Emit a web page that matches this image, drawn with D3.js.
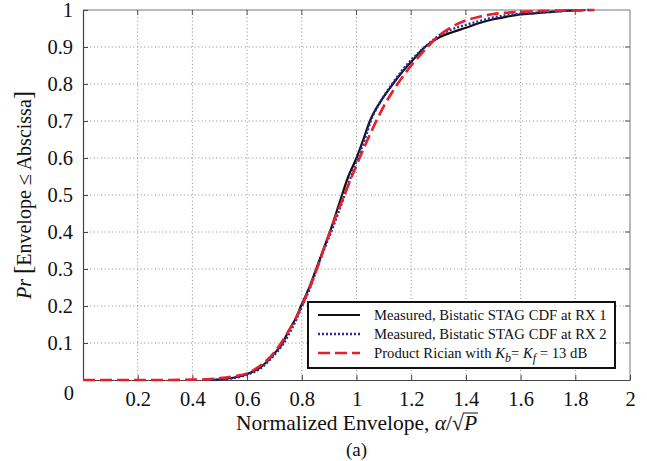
<!DOCTYPE html>
<html>
<head>
<meta charset="utf-8">
<script src="https://cdn.jsdelivr.net/npm/d3@7"></script>
<style>
  body { margin: 0; background: #fff; }
  text { font-family: "Liberation Serif", "Times New Roman", serif; fill: #111; }
</style>
</head>
<body>
<svg width="647" height="461"></svg>
<script>
// data
let xTicks = [0, 0.2, 0.4, 0.6, 0.8, 1, 1.2, 1.4, 1.6, 1.8, 2];
let yTicks = [0, 0.1, 0.2, 0.3, 0.4, 0.5, 0.6, 0.7, 0.8, 0.9, 1];

let rx1X = [0.47, 0.5, 0.55, 0.6, 0.65, 0.7, 0.73, 0.75, 0.78, 0.8, 0.83, 0.85, 0.88, 0.905, 0.925, 0.947, 0.97, 1.0, 1.025, 1.049, 1.09, 1.133, 1.17, 1.2, 1.25, 1.3, 1.35, 1.4, 1.45, 1.5, 1.55, 1.6, 1.65, 1.7, 1.75, 1.8, 1.83];
let rx1Y = [0, 0.002, 0.006, 0.016, 0.035, 0.072, 0.1, 0.13, 0.17, 0.205, 0.255, 0.295, 0.355, 0.405, 0.45, 0.5, 0.55, 0.6, 0.65, 0.7, 0.755, 0.8, 0.835, 0.86, 0.9, 0.925, 0.94, 0.952, 0.965, 0.975, 0.982, 0.988, 0.991, 0.994, 0.997, 0.999, 1.0];

let rx2X = [0.48, 0.5, 0.55, 0.6, 0.65, 0.7, 0.73, 0.75, 0.78, 0.8, 0.83, 0.85, 0.88, 0.91, 0.935, 0.957, 0.98, 1.005, 1.03, 1.052, 1.09, 1.13, 1.165, 1.2, 1.25, 1.3, 1.35, 1.4, 1.45, 1.5, 1.55, 1.6, 1.7, 1.8, 1.85];
let rx2Y = [0, 0.001, 0.005, 0.014, 0.032, 0.068, 0.095, 0.12, 0.163, 0.198, 0.248, 0.29, 0.35, 0.405, 0.455, 0.5, 0.55, 0.6, 0.65, 0.7, 0.755, 0.8, 0.835, 0.865, 0.9, 0.93, 0.948, 0.96, 0.97, 0.98, 0.986, 0.99, 0.995, 0.999, 1.0];

let ricX = [0, 0.1, 0.2, 0.3, 0.4, 0.45, 0.5, 0.55, 0.6, 0.65, 0.7, 0.75, 0.8, 0.85, 0.9, 0.95, 1.0, 1.05, 1.1, 1.15, 1.2, 1.25, 1.3, 1.35, 1.4, 1.45, 1.5, 1.6, 1.7, 1.8, 1.87];
let ricY = [0, 0, 0, 0, 0.001, 0.002, 0.005, 0.01, 0.018, 0.04, 0.075, 0.13, 0.2, 0.29, 0.395, 0.49, 0.58, 0.665, 0.74, 0.8, 0.85, 0.892, 0.93, 0.955, 0.972, 0.982, 0.989, 0.995, 0.998, 0.999, 1.0];

let margin = {top: 10, right: 17, bottom: 81, left: 83};
let svg = d3.select("svg");
let W = 647 - margin.left - margin.right;
let H = 461 - margin.top - margin.bottom;

let x = d3.scaleLinear().domain([0, 2]).range([0, W]);
let y = d3.scaleLinear().domain([0, 1]).range([H, 0]);

let g = svg.append("g").attr("transform", "translate(" + margin.left + "," + margin.top + ")");

// grid
g.selectAll(".vgrid").data(xTicks.slice(1, -1)).enter().append("line")
  .attr("x1", d => x(d)).attr("x2", d => x(d)).attr("y1", 0).attr("y2", H)
  .attr("stroke", "#8a8a8a").attr("stroke-width", 1).attr("stroke-dasharray", "1,2.6");
g.selectAll(".hgrid").data(yTicks.slice(1, -1)).enter().append("line")
  .attr("y1", d => y(d)).attr("y2", d => y(d)).attr("x1", 0).attr("x2", W)
  .attr("stroke", "#8a8a8a").attr("stroke-width", 1).attr("stroke-dasharray", "1,2.6");

// frame (top/right lighter)
g.append("line").attr("x1", 0).attr("x2", W).attr("y1", 0).attr("y2", 0).attr("stroke", "#777");
g.append("line").attr("x1", W).attr("x2", W).attr("y1", 0).attr("y2", H).attr("stroke", "#777");

let xAxis = g.append("g").attr("transform", "translate(0," + H + ")")
  .call(d3.axisBottom(x).tickValues(xTicks.slice(1)).tickSizeInner(-5).tickSizeOuter(0).tickPadding(11).tickFormat(d3.format("")));
let yAxis = g.append("g")
  .call(d3.axisLeft(y).tickValues(yTicks).tickSizeInner(-5).tickSizeOuter(0).tickPadding(10).tickFormat(d3.format("")));
[xAxis, yAxis].forEach(a => {
  a.select(".domain").attr("stroke", "#444").attr("stroke-width", 1.2);
  a.selectAll(".tick line").attr("stroke", "#444");
  a.selectAll("text").style("font-size", "20.5px").style("font-family", "Liberation Serif, serif").attr("fill", "#111");
});
yAxis.selectAll(".tick").filter(d => d === 0).select("text").attr("x", -9).attr("dy", "0.95em").attr("text-anchor", "end");

// ticks on top and right
g.selectAll(".ttick").data(xTicks.slice(1, -1)).enter().append("line")
  .attr("x1", d => x(d)).attr("x2", d => x(d)).attr("y1", 0).attr("y2", 5).attr("stroke", "#555");
g.selectAll(".rtick").data(yTicks.slice(1, -1)).enter().append("line")
  .attr("y1", d => y(d)).attr("y2", d => y(d)).attr("x1", W).attr("x2", W - 5).attr("stroke", "#555");

// curves
let line = d3.line().x(d => x(d[0])).y(d => y(d[1])).curve(d3.curveMonotoneX);
let series = [
  {xs: rx1X, ys: rx1Y, color: "#111", dash: null, width: 2.2},
  {xs: rx2X, ys: rx2Y, color: "#2b2ba8", dash: "2,2", width: 2.4},
  {xs: ricX, ys: ricY, color: "#e8202c", dash: "12,5", width: 2.6}
];
series.forEach(s => {
  g.append("path")
    .datum(s.xs.map((v, i) => [v, s.ys[i]]))
    .attr("d", line)
    .attr("fill", "none")
    .attr("stroke", s.color)
    .attr("stroke-width", s.width)
    .attr("stroke-dasharray", s.dash);
});

// legend
let lg = svg.append("g").attr("transform", "translate(308,302)");
lg.append("rect").attr("width", 307).attr("height", 66).attr("fill", "#fff").attr("stroke", "#111").attr("stroke-width", 2);
let legRows = [
  "Measured, Bistatic STAG CDF at RX 1",
  "Measured, Bistatic STAG CDF at RX 2",
  null
];
series.forEach((s, i) => {
  let yy = 13 + i * 19;
  lg.append("line").attr("x1", 10).attr("x2", 52).attr("y1", yy).attr("y2", yy)
    .attr("stroke", s.color).attr("stroke-width", s.width).attr("stroke-dasharray", s.dash);
  let t = lg.append("text").attr("x", 66).attr("y", yy + 5).style("font-size", "14.7px");
  if (legRows[i]) {
    t.text(legRows[i]);
  } else {
    t.append("tspan").text("Product Rician with ");
    t.append("tspan").attr("font-style", "italic").text("K");
    t.append("tspan").attr("font-style", "italic").attr("dy", 4).style("font-size", "12px").text("b");
    t.append("tspan").attr("dy", -4).text("= ");
    t.append("tspan").attr("font-style", "italic").text("K");
    t.append("tspan").attr("font-style", "italic").attr("dy", 4).style("font-size", "12px").text("f");
    t.append("tspan").attr("dy", -4).text(" = 13 dB");
  }
});

// x label
let xl = svg.append("text").attr("x", margin.left + W / 2).attr("y", 430)
  .attr("text-anchor", "middle").style("font-size", "21.5px");
xl.append("tspan").text("Normalized Envelope, ");
xl.append("tspan").attr("font-style", "italic").text("α");
xl.append("tspan").text("/√");
xl.append("tspan").attr("font-style", "italic").text("P");
let node = xl.node();
let n = node.getNumberOfChars();
let pBox = node.getExtentOfChar(n - 1);
let rBox = node.getExtentOfChar(n - 2);
svg.append("line").attr("x1", rBox.x + rBox.width - 1).attr("x2", pBox.x + pBox.width + 1)
  .attr("y1", pBox.y + 2).attr("y2", pBox.y + 2).attr("stroke", "#111").attr("stroke-width", 1);

svg.append("text").attr("x", margin.left + W / 2).attr("y", 456)
  .attr("text-anchor", "middle").style("font-size", "19px").text("(a)");

// y label
let yl = svg.append("text").attr("transform", "translate(31,195) rotate(-90)")
  .attr("text-anchor", "middle").style("font-size", "20px");
yl.append("tspan").attr("font-style", "italic").text("Pr ");
yl.append("tspan").style("font-size", "25px").text("[");
yl.append("tspan").text("Envelope ≤ Abscissa");
yl.append("tspan").style("font-size", "25px").text("]");
</script>
</body>
</html>
